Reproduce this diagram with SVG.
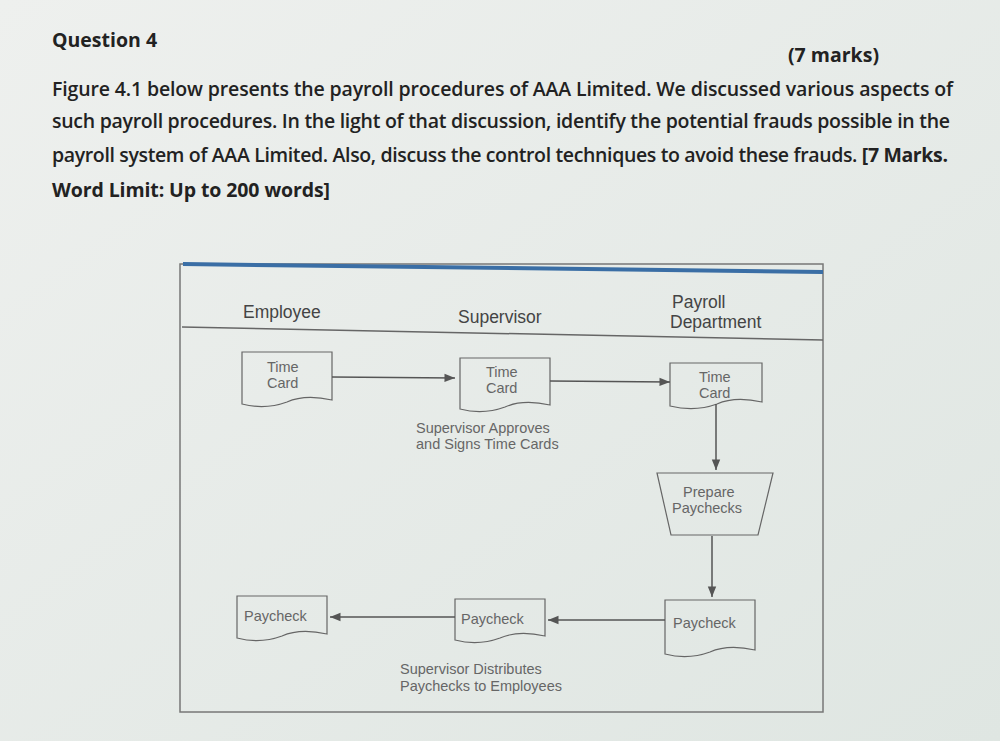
<svg xmlns="http://www.w3.org/2000/svg" width="1000" height="741" viewBox="0 0 1000 741">
<defs>
<linearGradient id="bg" x1="0" y1="0" x2="1" y2="1"><stop offset="0" stop-color="#eef0ee"/><stop offset="1" stop-color="#dfe6e2"/></linearGradient>
<marker id="ah" viewBox="0 0 10 10" refX="10" refY="5" markerWidth="9" markerHeight="7" orient="auto"><path d="M0,1 L10,5 L0,9 z" fill="#555"/></marker>
</defs>
<style>
.q{font-family:"Open Sans","Liberation Sans",sans-serif;font-size:19.5px;fill:#222;font-weight:600}
.b{font-weight:bold}
.h{font-family:"Liberation Sans",sans-serif;font-size:17.5px;fill:#444}
.n{font-family:"Liberation Sans",sans-serif;font-size:14.5px;fill:#666}
.doc{fill:none;stroke:#666;stroke-width:1.2}
.c{stroke:#555;stroke-width:1.5;fill:none;marker-end:url(#ah)}
</style>
<rect width="1000" height="741" fill="url(#bg)"/>
<text class="q b" x="52" y="47">Question 4</text>
<text class="q b" x="788" y="62">(7 marks)</text>
<text class="q" x="52" y="96" textLength="901">Figure 4.1 below presents the payroll procedures of AAA Limited. We discussed various aspects of</text>
<text class="q" x="52" y="128" textLength="898">such payroll procedures. In the light of that discussion, identify the potential frauds possible in the</text>
<text class="q" x="52" y="162" textLength="896">payroll system of AAA Limited. Also, discuss the control techniques to avoid these frauds. <tspan class="b">[7 Marks.</tspan></text>
<text class="q b" x="52" y="197" textLength="278">Word Limit: Up to 200 words]</text>
<rect x="180" y="264" width="643" height="448" fill="none" stroke="#777" stroke-width="1.5"/>
<line x1="183" y1="264" x2="823" y2="272" stroke="#3a6ea5" stroke-width="4"/>
<line x1="182" y1="327" x2="823" y2="340" stroke="#666" stroke-width="1.5"/>
<text class="h" x="243" y="318">Employee</text>
<text class="h" x="458" y="323">Supervisor</text>
<text class="h" x="672" y="308">Payroll</text>
<text class="h" x="670" y="328">Department</text>
<g id="emp-timecard"><path class="doc" d="M242,352 H332 V400 Q305,394 287,402 Q265,410 242,404 Z"/><text class="n" x="267" y="372">Time</text><text class="n" x="267" y="388">Card</text></g>
<g id="sup-timecard"><path class="doc" d="M460,358 H550 V405 Q523,399 505,407 Q483,415 460,409 Z"/><text class="n" x="486" y="377">Time</text><text class="n" x="486" y="393">Card</text></g>
<g id="pay-timecard"><path class="doc" d="M670,363 H762 V402 Q735,396 717,404 Q695,412 670,406 Z"/><text class="n" x="699" y="382">Time</text><text class="n" x="699" y="398">Card</text></g>
<g id="prepare"><path class="doc" d="M657,473 H773 L758,535 H671 Z"/><text class="n" x="683" y="497">Prepare</text><text class="n" x="672" y="513">Paychecks</text></g>
<g id="emp-paycheck"><path class="doc" d="M237,596 H327 V634 Q300,628 282,636 Q260,644 237,638 Z"/><text class="n" x="244" y="621">Paycheck</text></g>
<g id="sup-paycheck"><path class="doc" d="M455,599 H545 V636 Q518,630 500,638 Q478,646 455,640 Z"/><text class="n" x="461" y="624">Paycheck</text></g>
<g id="pay-paycheck"><path class="doc" d="M665,600 H755 V650 Q728,644 710,652 Q688,660 665,654 Z"/><text class="n" x="673" y="628">Paycheck</text></g>
<g id="labels"><text class="n" x="416" y="433">Supervisor Approves</text><text class="n" x="416" y="449">and Signs Time Cards</text>
<text class="n" x="400" y="674">Supervisor Distributes</text><text class="n" x="400" y="691">Paychecks to Employees</text></g>
<g id="connectors">
<line class="c" x1="332" y1="377" x2="455" y2="378"/>
<line class="c" x1="550" y1="381" x2="670" y2="382"/>
<line class="c" x1="716" y1="404" x2="716" y2="470"/>
<line class="c" x1="712" y1="536" x2="712" y2="597"/>
<line class="c" x1="665" y1="620" x2="548" y2="620"/>
<line class="c" x1="455" y1="617" x2="330" y2="617"/>
</g>
</svg>
